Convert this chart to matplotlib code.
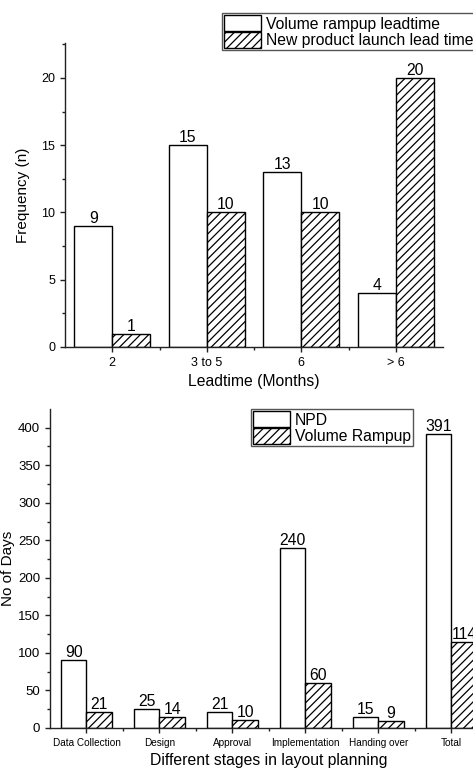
import matplotlib
matplotlib.use('Agg')
import matplotlib.pyplot as plt
from matplotlib.ticker import MultipleLocator, FixedLocator
import numpy as np

plt.rcParams['font.family'] = ['Liberation Sans', 'DejaVu Sans']
plt.rcParams['hatch.linewidth'] = 0.9

## 위쪽 그래프 데이터
lead_cats = ['2', '3 to 5', '6', '> 6']
volume_rampup = [9, 15, 13, 4]
new_launch = [1, 10, 10, 20]

## 아래쪽 그래프 데이터
stages = ['Data Collection', 'Design', 'Approval', 'Implementation', 'Handing over', 'Total']
npd_days = [90, 25, 21, 240, 15, 391]
rampup_days = [21, 14, 10, 60, 9, 114]

W, H = 473, 771
fig = plt.figure(figsize=(W / 100, H / 100), dpi=100)

spine_c = '#222222'


def style_axes(ax):
    for s in ['top', 'right']:
        ax.spines[s].set_visible(False)
    for s in ['left', 'bottom']:
        ax.spines[s].set_color(spine_c)
        ax.spines[s].set_linewidth(1.0)
    ax.tick_params(which='major', direction='out', length=3.5, width=1.0, color=spine_c)
    ax.tick_params(which='minor', direction='out', length=2, width=1.0, color=spine_c)


def add_legend(ax, x, y):
    leg = ax.legend(loc='upper left', bbox_to_anchor=(x / W, 1 - y / H), bbox_transform=fig.transFigure,
                    fontsize=11.3, frameon=True, fancybox=False, framealpha=1, edgecolor='#555555',
                    handlelength=2.35, handleheight=1.2, labelspacing=0.0, borderpad=0.15,
                    handletextpad=0.3, borderaxespad=0)
    leg.get_frame().set_linewidth(1.0)
    return leg


## 위 그래프
ax1 = fig.add_axes([65 / W, 1 - 347 / H, 378 / W, 304 / H])
x1 = np.arange(len(lead_cats))
b1 = ax1.bar(x1 - 0.4, volume_rampup, width=0.4, align='edge', color='white', edgecolor='black',
             linewidth=1.0, label='Volume rampup leadtime')
b2 = ax1.bar(x1, new_launch, width=0.4, align='edge', color='white', edgecolor='black',
             linewidth=1.0, hatch='////', label='New product launch lead time')
ax1.bar_label(b1, fontsize=11.3, padding=0)
ax1.bar_label(b2, fontsize=11.3, padding=0)
ax1.set_xlim(-0.5, 3.5)
ax1.set_ylim(0, 22.6)
ax1.set_xticks(x1)
ax1.set_xticklabels(lead_cats, fontsize=9)
ax1.xaxis.set_minor_locator(FixedLocator([0.5, 1.5, 2.5]))
ax1.yaxis.set_major_locator(MultipleLocator(5))
ax1.yaxis.set_minor_locator(MultipleLocator(2.5))
ax1.tick_params(axis='y', labelsize=9)
ax1.set_xlabel('Leadtime (Months)', fontsize=11.3, labelpad=4)
ax1.set_ylabel('Frequency (n)', fontsize=11, labelpad=8)
style_axes(ax1)
add_legend(ax1, 222, 13)

## 아래 그래프
ax2 = fig.add_axes([50 / W, 1 - 728 / H, 437.8 / W, 318.7 / H])
x2 = np.arange(len(stages))
c1 = ax2.bar(x2 - 0.35, npd_days, width=0.35, align='edge', color='white', edgecolor='black',
             linewidth=1.0, label='NPD')
c2 = ax2.bar(x2, rampup_days, width=0.35, align='edge', color='white', edgecolor='black',
             linewidth=1.0, hatch='////', label='Volume Rampup')
ax2.bar_label(c1, fontsize=11.3, padding=0)
ax2.bar_label(c2, fontsize=11.3, padding=0)
ax2.set_xlim(-0.5, 5.5)
ax2.set_ylim(0, 424.5)
ax2.set_xticks(x2)
ax2.set_xticklabels(stages, fontsize=7.2)
ax2.xaxis.set_minor_locator(FixedLocator([0.5, 1.5, 2.5, 3.5, 4.5]))
ax2.yaxis.set_major_locator(MultipleLocator(50))
ax2.yaxis.set_minor_locator(MultipleLocator(25))
ax2.tick_params(axis='y', labelsize=9.5)
ax2.set_xlabel('Different stages in layout planning', fontsize=11.3, labelpad=4)
ax2.set_ylabel('No of Days', fontsize=11, labelpad=2)
style_axes(ax2)
add_legend(ax2, 251, 409)

fig.savefig('out.png', dpi=100)
